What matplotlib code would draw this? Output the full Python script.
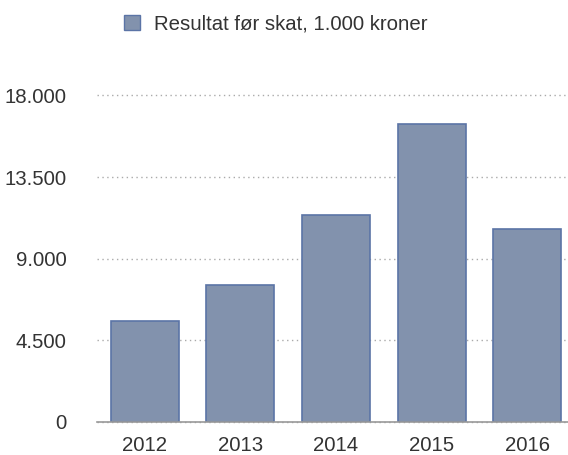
import matplotlib.pyplot as plt
from matplotlib.patches import Patch
from matplotlib.ticker import FuncFormatter

years = ["2012", "2013", "2014", "2015", "2016"]
resultat = [5570, 7540, 11420, 16410, 10620]
yticks = [0, 4500, 9000, 13500, 18000]
legend_label = "Resultat før skat, 1.000 kroner"

bar_color = "#8292ad"
edge_color = "#5b74a6"
text_color = "#333333"

plt.rcParams["font.family"] = ["Liberation Sans", "DejaVu Sans"]

fig = plt.figure(figsize=(5.68, 4.55), dpi=100)
ax = fig.add_axes([97 / 568, 33.3 / 455, 471 / 568, 326.2 / 455])

x = list(range(len(years)))
ax.bar(x, resultat, width=0.71, color=bar_color, edgecolor=edge_color, linewidth=1.2, zorder=3)

ax.set_xlim(-0.5, 4.427)
ax.set_ylim(0, 18000)
ax.set_xticks(x)
ax.set_xticklabels(years)
ax.set_yticks(yticks)
ax.yaxis.set_major_formatter(FuncFormatter(lambda v, p: f"{int(v):,}".replace(",", ".")))
ax.tick_params(axis="both", length=0, labelsize=14.7, colors=text_color)
ax.tick_params(axis="x", pad=10)
ax.tick_params(axis="y", pad=22)

ax.grid(axis="y", linestyle=(0, (1, 2.5)), color="#aaaaaa", linewidth=1, zorder=0)
ax.grid(axis="x", visible=False)
for gl in ax.get_ygridlines():
    gl.set_clip_on(False)
for s in ["top", "right", "left"]:
    ax.spines[s].set_visible(False)
ax.spines["bottom"].set_color("#999999")
ax.spines["bottom"].set_linewidth(1.2)
ax.spines["bottom"].set_zorder(4)

handle = Patch(facecolor=bar_color, edgecolor=edge_color, linewidth=1)
fig.legend([handle], [legend_label], loc="center left", bbox_to_anchor=(106 / 568, 1 - 24 / 455),
           frameon=False, fontsize=14.7, handlelength=0.75, handleheight=0.75,
           handletextpad=0.7, labelcolor=text_color)

fig.savefig("out.png", dpi=100, facecolor="white")
